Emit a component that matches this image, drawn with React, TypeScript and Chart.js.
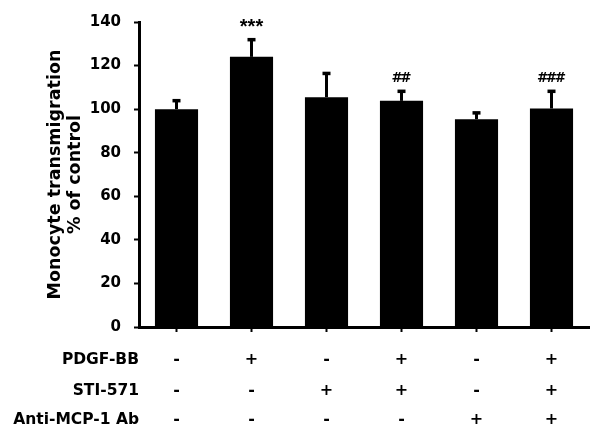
import React, { useEffect, useRef } from "react";
import { Chart, registerables } from "chart.js";

Chart.register(...registerables);

const categories = ["1", "2", "3", "4", "5", "6"];
const meanValues = [100, 124, 105.5, 103.8, 95.4, 100.3];
const errorValues = [4, 8, 11, 4.5, 3, 8];
const sigLabels = ["", "***", "", "##", "", "###"];
const rowTitles = ["PDGF-BB", "STI-571", "Anti-MCP-1 Ab"];
const pdgfSigns = ["-", "+", "-", "+", "-", "+"];
const stiSigns = ["-", "-", "+", "+", "-", "+"];
const antiSigns = ["-", "-", "-", "-", "+", "+"];
const yTitleLines = ["Monocyte transmigration", "% of control"];

const BOLD_DV = "bold 15.5px 'DejaVu Sans'";

const overlayPlugin = {
  id: "overlay",
  afterDatasetsDraw(chart: any) {
    const ctx = chart.ctx;
    const yScale = chart.scales.y;
    const xScale = chart.scales.x;
    const meta = chart.getDatasetMeta(0);
    ctx.save();
    ctx.fillStyle = "#000";
    ctx.strokeStyle = "#000";
    meta.data.forEach((el: any, i: number) => {
      const x = el.x;
      const yTop = el.y;
      const yErr = yScale.getPixelForValue(meanValues[i] + errorValues[i]);
      ctx.lineWidth = 3;
      ctx.beginPath();
      ctx.moveTo(x, yTop);
      ctx.lineTo(x, yErr);
      ctx.stroke();
      ctx.fillRect(x - 4, yErr - 1.5, 8, 3.5);
      const s = sigLabels[i];
      if (s) {
        const isStar = s.startsWith("*");
        ctx.font = isStar ? "bold 20px 'Liberation Sans'" : "bold 13.5px 'DejaVu Sans'";
        const spacing = isStar ? 0 : -2.5;
        (ctx as any).letterSpacing = spacing + "px";
        ctx.textAlign = "center";
        ctx.textBaseline = "alphabetic";
        const m = ctx.measureText(s);
        const center = isStar ? yErr - 16 : yErr - 14;
        const base = center + (m.actualBoundingBoxAscent - m.actualBoundingBoxDescent) / 2;
        ctx.fillText(s, x + spacing / 2, base);
        (ctx as any).letterSpacing = "0px";
      }
    });

    // condition table
    const rows = [pdgfSigns, stiSigns, antiSigns];
    const rowY = [360, 390.5, 420];
    const axisBottom = chart.chartArea.bottom;
    rows.forEach((signs, r) => {
      const y = axisBottom + (rowY[r] - 327);
      ctx.font = BOLD_DV;
      ctx.textBaseline = "middle";
      ctx.textAlign = "right";
      ctx.fillText(rowTitles[r], chart.chartArea.left, y);
      ctx.textAlign = "center";
      ctx.font = "bold 16px 'DejaVu Sans'";
      signs.forEach((sg, i) => {
        ctx.fillText(sg, xScale.getPixelForValue(i), y);
      });
    });

    // y-axis title
    ctx.font = "bold 17.5px 'DejaVu Sans'";
    ctx.textAlign = "center";
    ctx.textBaseline = "alphabetic";
    const cy = (chart.chartArea.top + chart.chartArea.bottom) / 2;
    const baseX = [60, 80];
    yTitleLines.forEach((line, k) => {
      ctx.save();
      ctx.translate(baseX[k], cy);
      ctx.rotate(-Math.PI / 2);
      ctx.fillText(line, 0, 0);
      ctx.restore();
    });
    ctx.restore();
  },
};

export default function App() {
  const ref = useRef<HTMLCanvasElement | null>(null);
  useEffect(() => {
    if (!ref.current) return;
    const chart = new Chart(ref.current, {
      type: "bar",
      data: {
        labels: categories,
        datasets: [
          {
            data: meanValues,
            backgroundColor: "#000",
            borderWidth: 0,
            barPercentage: 0.575,
            categoryPercentage: 1,
          },
        ],
      },
      options: {
        animation: false,
        responsive: false,
        maintainAspectRatio: false,
        layout: { padding: { top: 21, right: 11, bottom: 0, left: 0 } },
        plugins: {
          legend: { display: false },
          tooltip: { enabled: false },
          title: { display: false },
        },
        scales: {
          x: {
            grid: {
              offset: false,
              drawOnChartArea: false,
              drawTicks: true,
              tickLength: 5,
              tickWidth: 2,
              tickColor: "#000",
            },
            border: { display: true, color: "#000", width: 3 },
            ticks: { display: false },
            afterFit(scale: any) {
              scale.height = 118;
            },
          },
          y: {
            min: 0,
            max: 140,
            grid: {
              drawOnChartArea: false,
              drawTicks: true,
              tickLength: 5,
              tickWidth: 2,
              tickColor: "#000",
            },
            border: { display: true, color: "#000", width: 3 },
            ticks: {
              stepSize: 20,
              padding: 13,
              color: "#000",
              font: { family: "'DejaVu Sans'", weight: "bold", size: 15 },
            },
            afterFit(scale: any) {
              scale.width = 139;
            },
          },
        },
      },
      plugins: [overlayPlugin],
    });
    return () => chart.destroy();
  }, []);
  return (
    <div style={{ position: "fixed", left: 0, top: 0, width: 600, height: 445, background: "#fff" }}>
      <canvas ref={ref} width={600} height={445} style={{ width: 600, height: 445 }} />
    </div>
  );
}
